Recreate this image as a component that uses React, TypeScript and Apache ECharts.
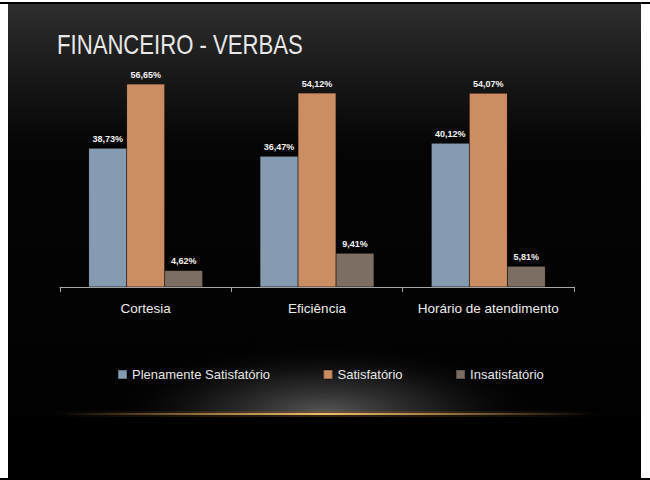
import React, { useEffect, useRef } from "react";
import * as echarts from "echarts";

const categories = ["Cortesia", "Eficiência", "Horário de atendimento"];
const seriesNames = ["Plenamente Satisfatório", "Satisfatório", "Insatisfatório"];
const plenamente = [38.73, 36.47, 40.12];
const satisfatorio = [56.65, 54.12, 54.07];
const insatisfatorio = [4.62, 9.41, 5.81];
const colors = ["#849BB2", "#CD8D62", "#7D6E64"];
const titleText = "FINANCEIRO - VERBAS";

const FONT = '"Liberation Sans", Arial, sans-serif';

export default function App() {
  const ref = useRef<HTMLDivElement>(null);
  useEffect(() => {
    if (!ref.current) return;
    const chart = echarts.init(ref.current, null, { renderer: "svg" });
    const fmt = (p: any) => Number(p.value).toFixed(2).replace(".", ",") + "%";
    const mk = (name: string, data: number[], color: string) => ({
      name,
      type: "bar",
      data,
      barWidth: 38,
      barGap: "0%",
      itemStyle: { color, borderColor: "rgba(0,0,0,0.25)", borderWidth: 0.5 },
      label: {
        show: true,
        position: "top",
        distance: 5,
        formatter: fmt,
        color: "#f2f2f2",
        fontFamily: FONT,
        fontWeight: "bold",
        fontSize: 9,
      },
    });
    chart.setOption({
      animation: false,
      backgroundColor: "#ffffff",
      graphic: [
        { type: "rect", z: -10, silent: true, shape: { x: 0, y: 2, width: 650, height: 2 }, style: { fill: "#000" } },
        {
          type: "rect",
          z: -10,
          silent: true,
          shape: { x: 8, y: 4, width: 633, height: 475 },
          style: {
            fill: new echarts.graphic.LinearGradient(0, 0, 0, 1, [
              { offset: 0, color: "#2f2f2f" },
              { offset: 0.12, color: "#1c1c1c" },
              { offset: 0.3, color: "#050505" },
              { offset: 1, color: "#000000" },
            ]),
          },
        },
        {
          type: "circle",
          z: -9,
          silent: true,
          x: 325,
          y: 414,
          scaleY: 0.32,
          shape: { cx: 0, cy: 0, r: 225 },
          style: {
            fill: new echarts.graphic.RadialGradient(0.5, 0.5, 0.5, [
              { offset: 0, color: "rgba(95,95,95,0.95)" },
              { offset: 0.5, color: "rgba(48,48,48,0.6)" },
              { offset: 1, color: "rgba(0,0,0,0)" },
            ]),
          },
        },
        { type: "rect", z: -8, silent: true, shape: { x: 8, y: 415, width: 633, height: 64 }, style: { fill: "#000" } },
        {
          type: "rect",
          z: -7,
          silent: true,
          shape: { x: 40, y: 411, width: 570, height: 6 },
          style: {
            fill: new echarts.graphic.LinearGradient(0, 0, 1, 0, [
              { offset: 0, color: "rgba(120,80,30,0)" },
              { offset: 0.5, color: "rgba(120,80,30,0.45)" },
              { offset: 1, color: "rgba(120,80,30,0)" },
            ]),
          },
        },
        {
          type: "rect",
          z: -6,
          silent: true,
          shape: { x: 60, y: 413, width: 530, height: 2 },
          style: {
            fill: new echarts.graphic.LinearGradient(0, 0, 1, 0, [
              { offset: 0, color: "rgba(200,150,80,0)" },
              { offset: 0.3, color: "rgba(210,160,90,0.7)" },
              { offset: 0.5, color: "rgba(235,190,110,1)" },
              { offset: 0.7, color: "rgba(210,160,90,0.7)" },
              { offset: 1, color: "rgba(200,150,80,0)" },
            ]),
          },
        },
        { type: "rect", z: -10, silent: true, shape: { x: 0, y: 478, width: 650, height: 2 }, style: { fill: "#000" } },
        {
          type: "text",
          z: 5,
          x: 57,
          y: 44.5,
          scaleX: 0.82,
          style: {
            text: titleText,
            fill: "#e8e8e8",
            fontFamily: FONT,
            fontSize: 27,
            verticalAlign: "middle",
            align: "left",
          },
        },
      ],
      legend: {
        data: seriesNames,
        left: 112,
        top: 363,
        itemWidth: 9,
        itemHeight: 9,
        itemGap: 52.5,
        icon: "rect",
        textStyle: { color: "#e6e6e6", fontFamily: FONT, fontSize: 13 },
      },
      grid: { left: 60, right: 76, top: 72, bottom: 193 },
      xAxis: {
        type: "category",
        data: categories,
        axisLine: { lineStyle: { color: "#a6a6a6", width: 1 } },
        axisTick: { show: true, length: 5, lineStyle: { color: "#a6a6a6" } },
        axisLabel: { color: "#ececec", fontFamily: FONT, fontSize: 13.5, margin: 14, interval: 0 },
      },
      yAxis: {
        type: "value",
        min: 0,
        max: 60,
        show: false,
        splitLine: { show: false },
      },
      series: [
        mk(seriesNames[0], plenamente, colors[0]),
        mk(seriesNames[1], satisfatorio, colors[1]),
        mk(seriesNames[2], insatisfatorio, colors[2]),
      ],
    });
    return () => chart.dispose();
  }, []);
  return (
    <div
      ref={ref}
      style={{ position: "fixed", left: 0, top: 0, width: 650, height: 480 }}
    />
  );
}
